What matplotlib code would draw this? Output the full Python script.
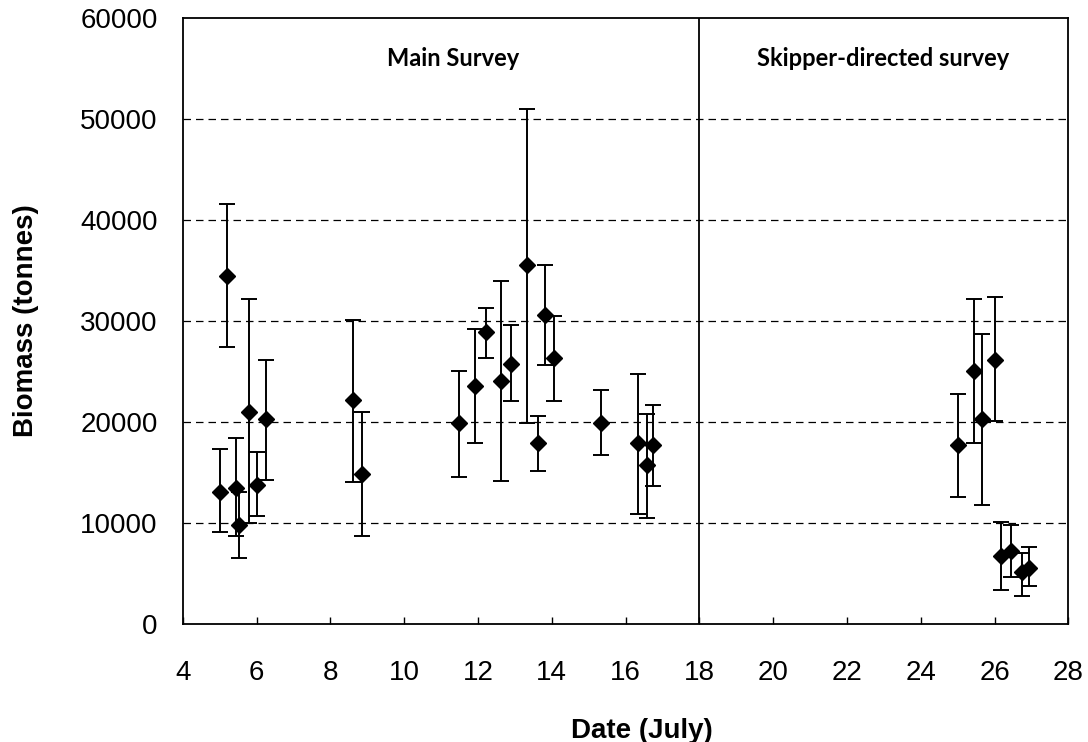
"""Acoustic biomass estimates by survey date, with error bars."""

import matplotlib

matplotlib.use("Agg")
import matplotlib.pyplot as plt
import numpy as np

# Date (July), biomass estimate and lower/upper error limits (tonnes)
dates = [5.0, 5.2, 5.43, 5.52, 5.8, 6.0, 6.25, 8.62, 8.87,
         11.49, 11.92, 12.21, 12.61, 12.9, 13.33, 13.63, 13.81, 14.05,
         15.32, 16.33, 16.58, 16.75,
         25.01, 25.43, 25.67, 26.0, 26.16, 26.44, 26.74, 26.93]
biomass = [13100, 34400, 13500, 9800, 21000, 13800, 20300, 22150, 14800,
           19900, 23550, 28900, 24100, 25750, 35500, 17900, 30550, 26300,
           19900, 17900, 15700, 17700,
           17700, 25050, 20250, 26150, 6700, 7250, 5100, 5500]
upper = [17300, 41600, 18400, 13100, 32200, 17000, 26150, 30100, 20950,
         25050, 29200, 31250, 34000, 29600, 51000, 20600, 35500, 30500,
         23150, 24700, 20800, 21700,
         22800, 32150, 28700, 32400, 10130, 9850, 7060, 7590]
lower = [9100, 27400, 8750, 6500, 9950, 10700, 14250, 14050, 8700,
         14600, 17900, 26300, 14200, 22100, 19850, 15150, 25600, 22100,
         16750, 10900, 10500, 13650,
         12550, 17900, 11800, 20100, 3400, 4700, 2800, 3750]

survey_split = 18
section_labels = ["Main Survey", "Skipper-directed survey"]
section_label_x = [11.33, 22.98]

dates = np.array(dates)
biomass = np.array(biomass)
yerr = np.vstack([biomass - np.array(lower), np.array(upper) - biomass])

plt.rcParams["font.family"] = ["Liberation Sans", "DejaVu Sans"]

fig = plt.figure(figsize=(10.88, 7.42), dpi=100)
ax = fig.add_axes([0.168, 0.159, 0.814, 0.817])

# dashed horizontal gridlines
for yv in range(10000, 60000, 10000):
    ax.axhline(yv, color="black", linestyle=(0, (6, 4)), linewidth=0.9, zorder=1)

ax.axvline(survey_split, color="black", linewidth=1.3, zorder=1)

ax.errorbar(dates, biomass, yerr=yerr, fmt="D", color="black",
            markersize=8, elinewidth=1.4, capsize=6, capthick=1.4, zorder=3)

for label, lx in zip(section_labels, section_label_x):
    ax.text(lx, 56000, label, ha="center", va="center", fontsize=17,
            fontweight="bold", family=["Lato", "DejaVu Sans"])

ax.set_xlim(4, 28)
ax.set_ylim(0, 60000)
ax.set_xticks(range(4, 29, 2))
ax.set_yticks(range(0, 60001, 10000))
ax.tick_params(axis="x", direction="in", length=5, width=1, labelsize=20, pad=26)
ax.tick_params(axis="y", length=0, labelsize=20, pad=18)
for spine in ax.spines.values():
    spine.set_linewidth(1.3)

ax.set_xlabel("Date (July)", fontsize=20, fontweight="bold", labelpad=24)
ax.xaxis.set_label_coords(0.518, -0.155)
ax.set_ylabel("Biomass (tonnes)", fontsize=20, fontweight="bold", labelpad=30)

fig.savefig("out.png", dpi=100)
